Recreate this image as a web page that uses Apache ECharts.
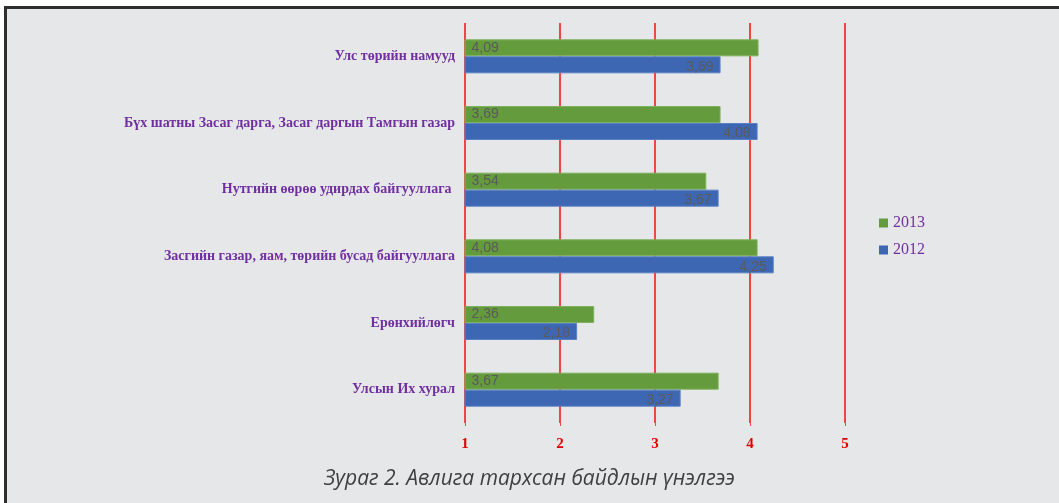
<!DOCTYPE html>
<html>
<head>
<meta charset="utf-8">
<style>
html,body{margin:0;padding:0;background:#fff;}
#chart{width:1059px;height:503px;}
</style>
<script src="https://cdn.jsdelivr.net/npm/echarts@6/dist/echarts.min.js"></script>
</head>
<body>
<div id="chart"></div>
<script>
// Categories listed bottom-to-top
var categories = [
  'Улсын Их хурал',
  'Ерөнхийлөгч',
  'Засгийн газар, яам, төрийн бусад байгууллага',
  'Нутгийн өөрөө удирдах байгууллага ',
  'Бүх шатны Засаг дарга, Засаг даргын Тамгын газар',
  'Улс төрийн намууд'
];
var values2013 = [3.67, 2.36, 4.08, 3.54, 3.69, 4.09];
var values2012 = [3.27, 2.18, 4.25, 3.67, 4.08, 3.69];
var xTicks = [1, 2, 3, 4, 5];
var titleText = 'Зураг 2. Авлига тархсан байдлын үнэлгээ';

var chart = echarts.init(document.getElementById('chart'));
function fmt(p){ return p.value.toFixed(2).replace('.', ','); }
var labelFont = {fontFamily:'Liberation Sans, Arial, sans-serif', fontSize:14, color:'#5a5a5a'};
chart.setOption({
  backgroundColor:'#ffffff',
  animation:false,
  graphic:[
    {type:'rect', z:-10, silent:true,
     shape:{x:5.5, y:7.5, width:1070, height:510},
     style:{fill:'#e6e7e9', stroke:'#2e2e2e', lineWidth:3}},
    {type:'text', left:'center', top:469,
     style:{text:titleText, fill:'#404040', font:'italic 21px "Open Sans", "DejaVu Sans", sans-serif'}}
  ],
  grid:{left:465, right:214, top:23, bottom:80, containLabel:false},
  legend:{
    orient:'vertical', left:874, top:210,
    data:['2013','2012'],
    itemWidth:9, itemHeight:9, itemGap:11,
    icon:'rect',
    itemStyle:{borderWidth:0},
    textStyle:{fontFamily:'Liberation Serif, Times New Roman, serif', fontSize:16, color:'#7030a0'}
  },
  xAxis:{
    type:'value', min:1, max:5, interval:1,
    axisLine:{show:false},
    axisTick:{show:true, length:3, lineStyle:{color:'#ee4444'}},
    splitLine:{show:true, lineStyle:{color:'#ef4545', width:2}},
    axisLabel:{margin:14, color:'#e00000', fontWeight:'bold', fontSize:15,
      fontFamily:'Liberation Serif, Times New Roman, serif',
      formatter:function(v){ return xTicks.indexOf(v) >= 0 ? String(v) : ''; }}
  },
  yAxis:{
    type:'category', data:categories,
    axisLine:{show:false}, axisTick:{show:false},
    axisLabel:{margin:10, color:'#7030a0', fontWeight:'bold', fontSize:14,
      fontFamily:'Liberation Serif, Times New Roman, serif'}
  },
  series:[
    {name:'2013', type:'bar', data:values2013, barCategoryGap:'49%', barGap:'0%',
     itemStyle:{color:'#649b3d', borderColor:'#7fb05e', borderWidth:1},
     label:{show:true, position:'insideLeft', offset:[2,0], formatter:fmt,
       fontFamily:labelFont.fontFamily, fontSize:labelFont.fontSize, color:labelFont.color}},
    {name:'2012', type:'bar', data:values2012, barCategoryGap:'49%', barGap:'0%',
     itemStyle:{color:'#3d67b3', borderColor:'#5a80c4', borderWidth:1},
     label:{show:true, position:'insideRight', offset:[-2,2], formatter:fmt,
       fontFamily:labelFont.fontFamily, fontSize:labelFont.fontSize, color:labelFont.color}}
  ]
});
</script>
</body>
</html>
